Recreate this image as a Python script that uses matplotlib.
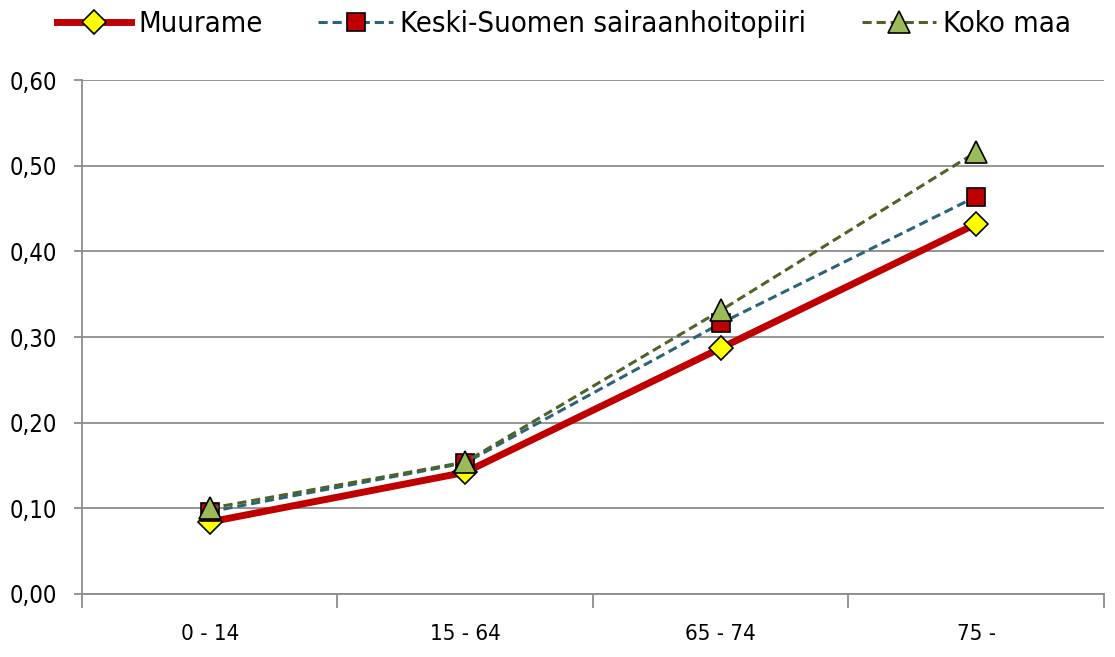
import matplotlib
matplotlib.use("Agg")
import matplotlib.pyplot as plt
from matplotlib.ticker import FuncFormatter, FixedLocator

plt.rcParams['font.family'] = ['DejaVu Sans']
plt.rcParams['font.stretch'] = 'condensed'

categories = ["0 - 14", "15 - 64", "65 - 74", "75 -"]
muurame = [0.084, 0.142, 0.287, 0.432]
keski_suomi = [0.096, 0.153, 0.316, 0.464]
koko_maa = [0.100, 0.154, 0.331, 0.516]

fig = plt.figure(figsize=(11.15, 6.57), dpi=100)
ax = fig.add_axes([0.0735, 0.096, 0.9165, 0.782])

x = list(range(len(categories)))

ax.plot(x, muurame, color='#C00000', lw=5, marker='D', ms=12.5,
        mfc='#FFFF00', mec='black', mew=1.2, label='Muurame', zorder=3)
ax.plot(x, keski_suomi, color='#2B6477', lw=2.2, dashes=(3, 1.6), marker='s', ms=13.5,
        mfc='#C00000', mec='black', mew=1.2, label='Keski-Suomen sairaanhoitopiiri', zorder=4)
ax.plot(x, koko_maa, color='#4F6228', lw=2.2, dashes=(3, 1.6), marker='^', ms=15.5,
        mfc='#9BBB59', mec='black', mew=1.2, label='Koko maa', zorder=5)

ax.set_xlim(-0.5, len(categories) - 0.5)
ax.set_ylim(0, 0.6)
ax.set_yticks([i / 10 for i in range(7)])
ax.yaxis.set_major_formatter(FuncFormatter(lambda v, p: f"{v:.2f}".replace('.', ',')))
ax.grid(axis='y', color='#8C8C8C', lw=1.3)
ax.set_axisbelow(True)

ax.xaxis.set_major_locator(FixedLocator([i - 0.5 for i in range(len(categories) + 1)]))
ax.xaxis.set_minor_locator(FixedLocator(x))
ax.set_xticklabels([])
ax.set_xticklabels(categories, minor=True)
ax.tick_params(axis='x', which='major', length=10, width=1.3, color='#8C8C8C', direction='out')
ax.tick_params(axis='x', which='minor', length=0, pad=22, labelsize=16)
ax.tick_params(axis='y', length=6, width=1.3, color='#8C8C8C', labelsize=17, pad=12)

for s in ['top', 'right']:
    ax.spines[s].set_visible(False)
for s in ['left', 'bottom']:
    ax.spines[s].set_color('#8C8C8C')
    ax.spines[s].set_linewidth(1.3)

fig.legend(loc='upper left', bbox_to_anchor=(57 / 1115, 1 - 10 / 657), ncol=3, frameon=False,
           fontsize=21, handlelength=2.55, handletextpad=0.25, columnspacing=1.9,
           borderpad=0, borderaxespad=0)

fig.savefig('out.png', dpi=100)
